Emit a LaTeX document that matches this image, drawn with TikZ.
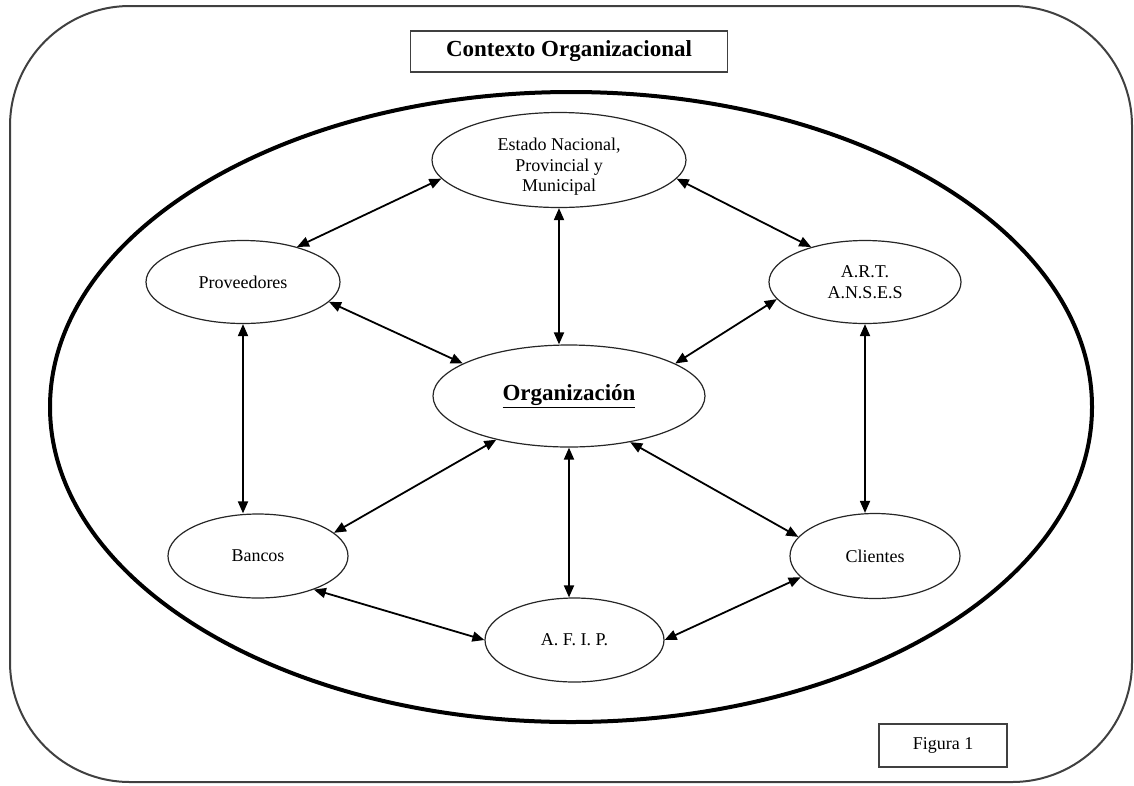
\documentclass[tikz,border=0pt]{standalone}
\usepackage{fontspec}
\setmainfont{Liberation Serif}
\usetikzlibrary{shapes.geometric,arrows.meta}
\begin{document}
\begin{tikzpicture}[x=1pt,y=-1pt,
  lbl/.style={font=\fontsize{18}{20.5}\selectfont},
  entity/.style={ellipse,draw=black!85,line width=1.2pt,inner sep=0pt,lbl,align=center},
  link/.style={line width=1.8pt,{Triangle[length=12pt,width=10pt]}-{Triangle[length=12pt,width=10pt]}},
  framebox/.style={draw=black!75,line width=1.5pt,inner sep=0pt}]
\useasboundingbox (0,0) rectangle (1134,785);

% outer frame and environment boundary
\draw[black!75,line width=2pt,rounded corners=120pt] (10,6) rectangle (1132,782);
\draw[line width=4pt] (571,407) ellipse [x radius=521,y radius=315];

% title and figure caption
\node[framebox,minimum width=317pt,minimum height=41pt,
      font=\bfseries\fontsize{23}{26}\selectfont] (title) at (569,51.5) {Contexto Organizacional};
\node[framebox,line width=1.2pt,minimum width=128pt,minimum height=43pt,lbl] (fig) at (943,745.5) {Figura 1};

% actors
\node[entity,minimum width=254pt,minimum height=95pt] (est) at (559,160)
  {\raisebox{-7pt}[\height][\depth]{\setlength\tabcolsep{0pt}\begin{tabular}{c}Estado Nacional,\\Provincial y\\Municipal\end{tabular}}};
\node[entity,minimum width=194pt,minimum height=83pt] (prov) at (243,282) {Proveedores};
\node[entity,minimum width=192pt,minimum height=83pt] (art) at (865,282) {A.R.T.\\A.N.S.E.S};
\node[entity,minimum width=272pt,minimum height=102pt,
      font=\bfseries\fontsize{23}{26}\selectfont] (org) at (569,396) {\underline{Organización}};
\node[entity,minimum width=180pt,minimum height=84pt] (banc) at (258,556) {Bancos};
\node[entity,minimum width=179pt,minimum height=84pt] (afip) at (574.5,640) {A. F. I. P.};
\node[entity,minimum width=170pt,minimum height=85pt] (cli) at (875,556) {Clientes};

% relations
\draw[link] (est.189.4) -- (prov.33.9);
\draw[link] (est.351) -- (art.147.1);
\draw[link] (est.south) -- (est.south |- org.north);
\draw[link] (prov.347.2) -- (org.163.8);
\draw[link] (art.191.9) -- (org.17.55);
\draw[link] (prov.south) -- (prov.south |- banc.north);
\draw[link] (art.south) -- (art.south |- cli.north);
\draw[link] (org.211.5) -- (banc.17.4);
\draw[link] (org.south) -- (org.south |- afip.north);
\draw[link] (org.323.6) -- (cli.166.1);
\draw[link] (banc.329) -- (afip.west);
\draw[link] (afip.east) -- (cli.196);
\end{tikzpicture}
\end{document}
